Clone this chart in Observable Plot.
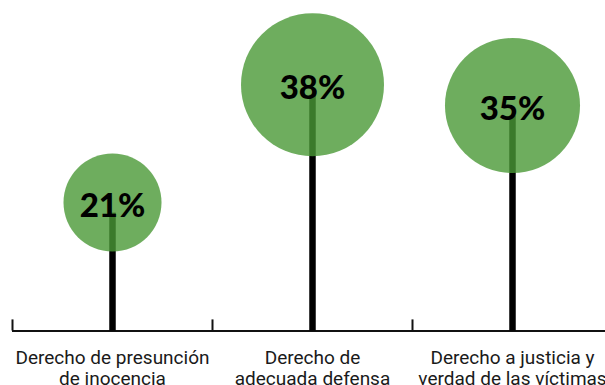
<!DOCTYPE html>
<html>
<head>
<meta charset="utf-8">
<script src="https://cdn.jsdelivr.net/npm/d3@7"></script>
<script src="https://cdn.jsdelivr.net/npm/@observablehq/plot@0.6"></script>
<style>
  html, body { margin: 0; padding: 0; background: #fff; overflow: hidden; }
</style>
</head>
<body>
<div id="chart"></div>
<script>
const categories = [
  "Derecho de presunción\nde inocencia",
  "Derecho de\nadecuada defensa",
  "Derecho a justicia y\nverdad de las víctimas"
];
const values = [21, 38, 35];

const data = categories.map((c, i) => ({category: c, value: values[i], pos: i + 0.5}));
const yMin = 4;

const chart = Plot.plot({
  width: 605,
  height: 385,
  margin: 0,
  x: {type: "linear", domain: [0, 3], range: [12, 612], axis: null},
  y: {domain: [yMin, 38], range: [330.5, 94.7], axis: null},
  r: {type: "linear", domain: [21, 38], range: [49, 71.5]},
  marks: [
    Plot.ruleY([yMin], {x1: 0, x2: 3, stroke: "#111", strokeWidth: 2}),
    Plot.ruleX([0, 1, 2, 3], {y1: yMin, y2: yMin + 1.6, stroke: "#111", strokeWidth: 2}),
    Plot.ruleX(data, {x: "pos", y1: yMin, y2: "value", stroke: "#000", strokeWidth: 6.5}),
    Plot.dot(data, {x: "pos", y: "value", r: "value", fill: "#4a9836", fillOpacity: 0.8, stroke: "none", dy: -10.5}),
    Plot.text(data, {x: "pos", y: "value", text: d => d.value + "%", fontSize: 33, fontWeight: 900, fontFamily: "Lato", fill: "#000", dy: -6.5}),
    Plot.text(data, {x: "pos", y: yMin, text: "category", fontSize: 19, fontFamily: "Roboto", fill: "#1a1a1a", lineHeight: 1.09, lineAnchor: "middle", dy: 37})
  ]
});
document.getElementById("chart").appendChild(chart);
</script>
</body>
</html>
